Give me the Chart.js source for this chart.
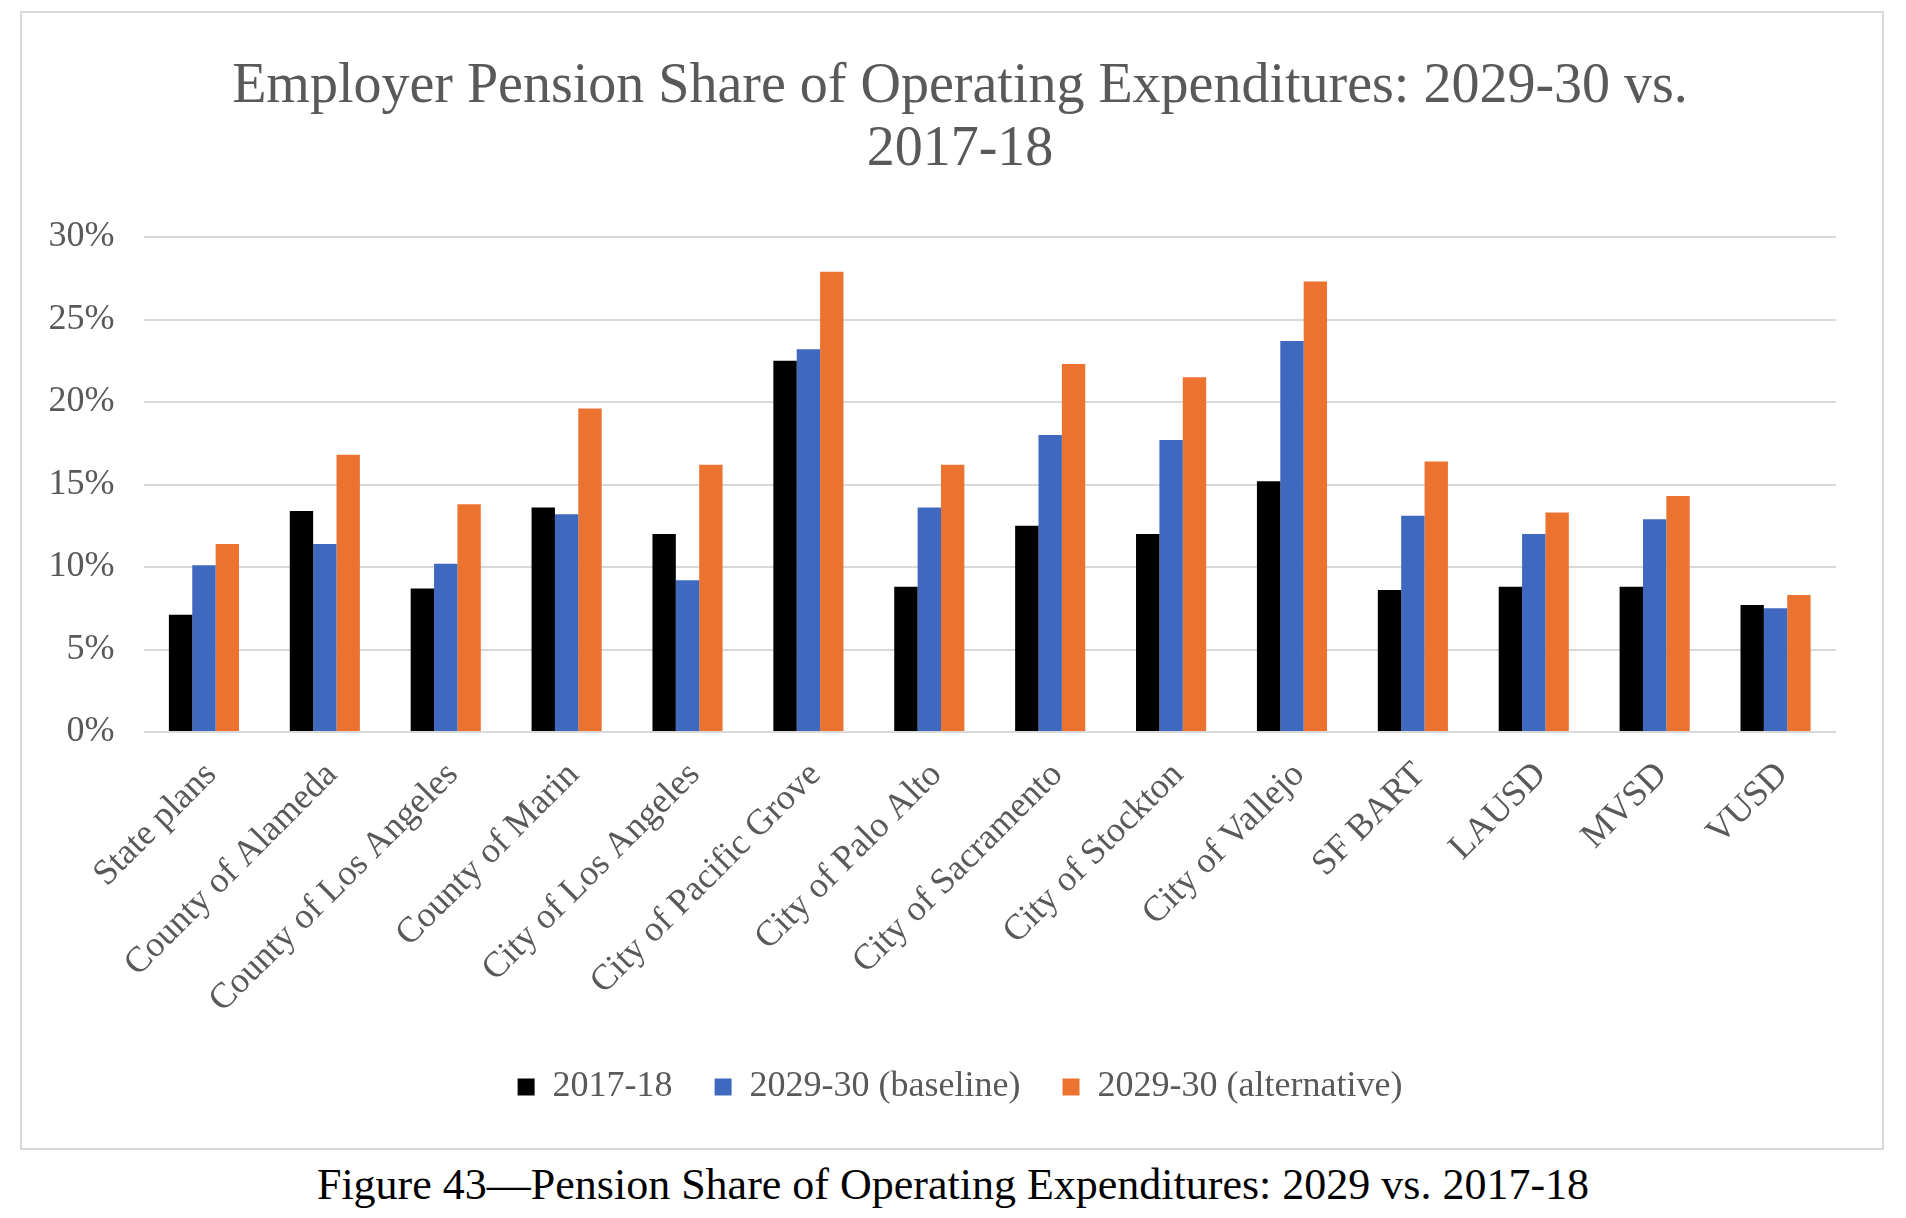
<!DOCTYPE html>
<html>
<head>
<meta charset="utf-8">
<script src="https://cdn.jsdelivr.net/npm/chart.js@4.4.0/dist/chart.umd.min.js"></script>
<style>
  body { margin: 0; background: #fff; }
  #box {
    position: absolute; left: 20px; top: 11px;
    width: 1864px; height: 1139px;
    border: 2px solid #d9d9d9; box-sizing: border-box;
  }
  #pensionChart { position: absolute; left: 22px; top: 13px; }
  #caption {
    position: absolute; left: 0; width: 1906px; top: 1160px;
    text-align: center; font: 44px/50px 'Liberation Serif', 'Times New Roman', serif;
    color: #000;
  }
</style>
</head>
<body>
<div id="box"></div>
<canvas id="pensionChart" width="1876" height="1135"></canvas>
<div id="caption">Figure 43—Pension Share of Operating Expenditures: 2029 vs. 2017-18</div>
<script>
  // values, percent of operating expenditures
  const categories = ['State plans', 'County of Alameda', 'County of Los Angeles', 'County of Marin',
    'City of Los Angeles', 'City of Pacific Grove', 'City of Palo Alto', 'City of Sacramento',
    'City of Stockton', 'City of Vallejo', 'SF BART', 'LAUSD', 'MVSD', 'VUSD'];
  const share2017 = [7.1, 13.4, 8.7, 13.6, 12.0, 22.5, 8.8, 12.5, 12.0, 15.2, 8.6, 8.8, 8.8, 7.7];
  const share2029Base = [10.1, 11.4, 10.2, 13.2, 9.2, 23.2, 13.6, 18.0, 17.7, 23.7, 13.1, 12.0, 12.9, 7.5];
  const share2029Alt = [11.4, 16.8, 13.8, 19.6, 16.2, 27.9, 16.2, 22.3, 21.5, 27.3, 16.4, 13.3, 14.3, 8.3];
  const yTicks = [0, 5, 10, 15, 20, 25, 30];

  const serif = "'Liberation Serif', 'Times New Roman', serif";
  const grey = '#595959';

  const chart = new Chart(document.getElementById('pensionChart'), {
    type: 'bar',
    data: {
      labels: categories,
      datasets: [
        { label: '2017-18', data: share2017, backgroundColor: '#000000' },
        { label: '2029-30 (baseline)', data: share2029Base, backgroundColor: '#3f68bf' },
        { label: '2029-30 (alternative)', data: share2029Alt, backgroundColor: '#ec7230' }
      ]
    },
    options: {
      responsive: false,
      animation: false,
      devicePixelRatio: 1,
      layout: { padding: { left: 0, right: 0, top: 0, bottom: 33 } },
      datasets: { bar: { barPercentage: 1, categoryPercentage: 0.58 } },
      plugins: {
        title: {
          display: true,
          text: ['Employer Pension Share of Operating Expenditures: 2029-30 vs.', '2017-18'],
          color: grey,
          font: { family: serif, size: 56, weight: 'normal', lineHeight: 1.125 },
          padding: { top: 43, bottom: 55 }
        },
        legend: {
          position: 'bottom',
          labels: {
            color: grey,
            font: { family: serif, size: 36 },
            boxWidth: 17, boxHeight: 17,
            padding: 42
          }
        },
        tooltip: { enabled: false }
      },
      scales: {
        x: {
          grid: { display: false },
          border: { display: false },
          ticks: {
            color: grey, font: { family: serif, size: 36 },
            minRotation: 45, maxRotation: 45, padding: 14, labelOffset: 7, autoSkip: false
          },
          afterFit: function(scale) { scale.height = 295; }
        },
        y: {
          min: 0, max: 30,
          grid: { color: '#d9d9d9', lineWidth: 2, drawTicks: false },
          border: { display: false },
          afterBuildTicks: function(scale) { scale.ticks = yTicks.map(v => ({ value: v })); },
          ticks: {
            color: grey, font: { family: serif, size: 36 }, padding: 29,
            callback: function(value) { return value + '%'; }
          },
          afterFit: function(scale) { scale.width = 121.5; }
        },
        // empty right-hand spacer so the title and legend centre like the original
        spacer: {
          type: 'linear', position: 'right', display: true,
          grid: { display: false }, border: { display: false },
          ticks: { display: false },
          afterFit: function(scale) { scale.width = 62; }
        }
      }
    }
  });
</script>
</body>
</html>
